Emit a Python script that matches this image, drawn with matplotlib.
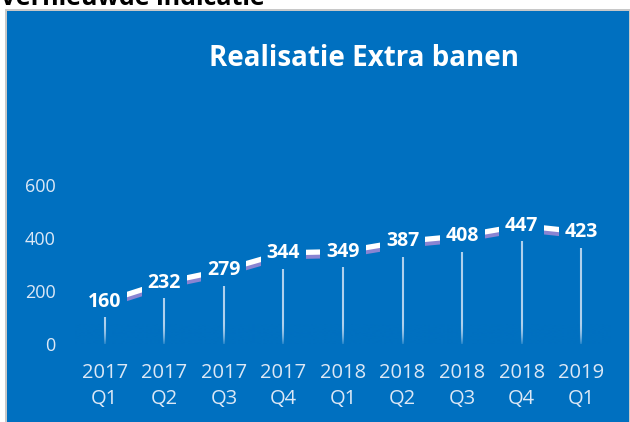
import numpy as np
import matplotlib.pyplot as plt
import matplotlib.patches as patches
import matplotlib.patheffects as pe
from matplotlib.colors import to_rgb

plt.rcParams['font.family'] = ['Open Sans', 'DejaVu Sans']

# data
jaren = ['2017', '2017', '2017', '2017', '2018', '2018', '2018', '2018', '2019']
kwartalen = ['Q1', 'Q2', 'Q3', 'Q4', 'Q1', 'Q2', 'Q3', 'Q4', 'Q1']
banen = [160, 232, 279, 344, 349, 387, 408, 447, 423]
y_ticks = [0, 200, 400, 600]

blauw = '#0070C0'
licht = '#dce8f6'

fig = plt.figure(figsize=(6.3, 4.22), dpi=100)
fig.patch.set_facecolor('white')

# achtergrond: blauw paneel met grijze rand
bg = fig.add_axes([0, 0, 1, 1], zorder=0)
bg.set_xlim(0, 630)
bg.set_ylim(422, 0)
bg.axis('off')
bg.add_patch(patches.Rectangle((5, 9), 625, 413, facecolor='#c8c8c8', edgecolor='none'))
bg.add_patch(patches.Rectangle((7, 11), 622, 411, facecolor=blauw, edgecolor='none'))

# afgesneden kop boven het paneel
bg.text(0, 5, 'Vernieuwde indicatie', fontsize=18, fontweight='bold',
        color='black', ha='left', va='baseline')

bg.text(364, 58, 'Realisatie Extra banen', fontsize=20, fontweight='bold',
        color='white', ha='center', va='center')

ax = fig.add_axes([75 / 630, 78 / 422, 536 / 630, 159 / 422], zorder=1)
ax.set_facecolor('none')
x = list(range(len(banen)))

# droplijnen, onderaan vervagend
ax.vlines(x, 0, banen, color='#d0e2f4', linewidth=1.5, alpha=0.85, zorder=1)
fade = np.zeros((64, 1, 4))
fade[:, 0, :3] = to_rgb(blauw)
fade[:, 0, 3] = np.linspace(0, 0.9, 64) ** 2
ax.imshow(fade, extent=(-0.5, len(banen) - 0.5, 0, 80), aspect='auto',
          origin='upper', zorder=1.5, interpolation='bilinear')

# 3D-lint
ax.plot(x, banen, color='white', linewidth=3.8, solid_capstyle='butt', zorder=2,
        path_effects=[pe.SimpleLineShadow(offset=(0, -2.8), shadow_color='#8a84d2', alpha=1.0, rho=1.0),
                      pe.Normal()])

for xi, v in zip(x, banen):
    ax.text(xi, v, str(v), fontsize=14, fontweight='bold', color='white',
            ha='center', va='center', zorder=3,
            bbox=dict(facecolor=blauw, edgecolor='none', boxstyle='square,pad=0.3'))

ax.set_xlim(-0.5, len(banen) - 0.5)
ax.set_ylim(0, 600)
ax.set_yticks(y_ticks)
ax.set_yticklabels([str(t) for t in y_ticks])
ax.set_xticks(x)
ax.set_xticklabels([j + '\n' + k for j, k in zip(jaren, kwartalen)], linespacing=1.35)
ax.tick_params(axis='y', length=0, pad=14, labelsize=13, labelcolor=licht)
ax.tick_params(axis='x', length=0, pad=14, labelsize=14.5, labelcolor=licht)
for s in ax.spines.values():
    s.set_visible(False)

plt.savefig('out.png', dpi=100, facecolor=fig.get_facecolor())
